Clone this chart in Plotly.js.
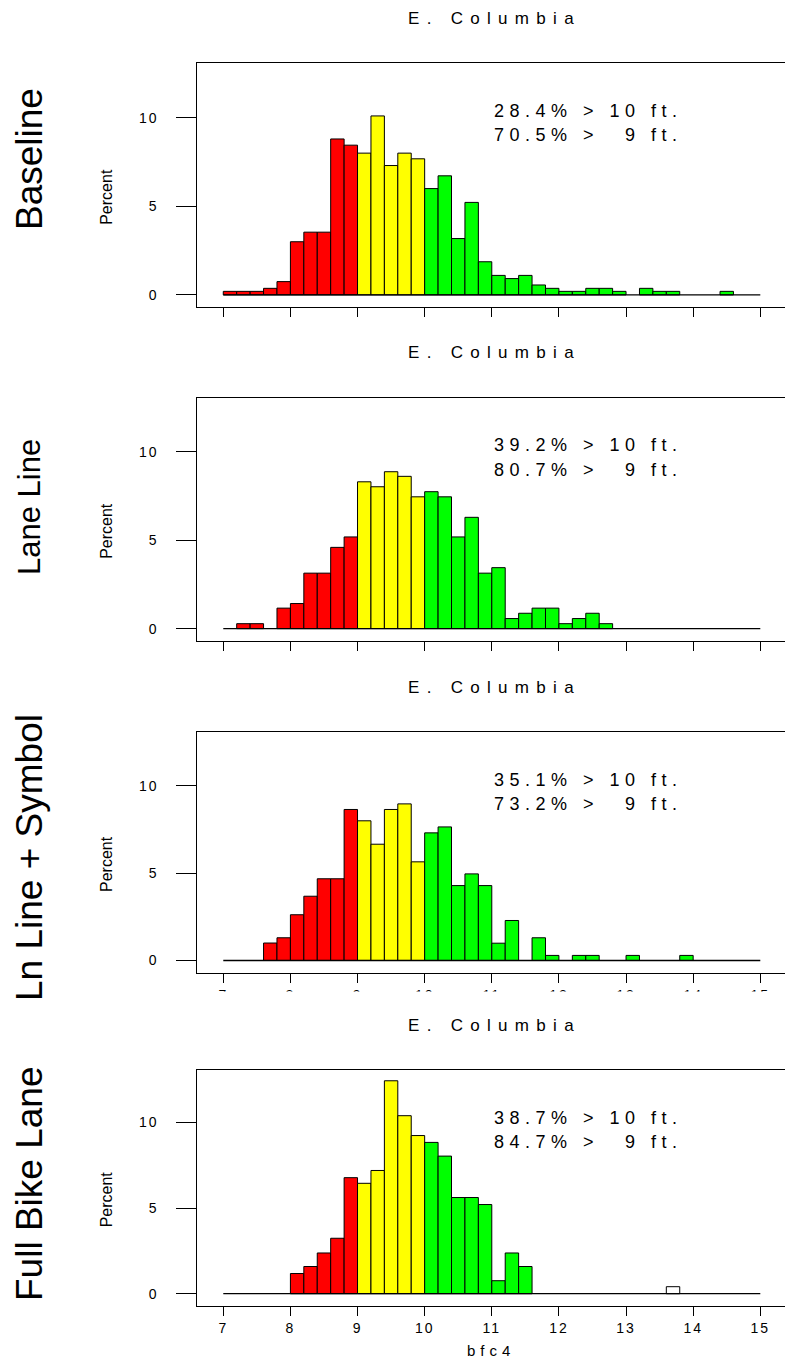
<!DOCTYPE html>
<html><head><meta charset="utf-8">
<script src="https://cdn.plot.ly/plotly-3.0.1.min.js"></script>
<style>html,body{margin:0;padding:0;background:#fff;overflow:hidden}</style>
</head><body><div id="chart" style="width:785px;height:1362px"></div>
<script>
// ---------- data ----------
const binLeft = [7.0,7.2,7.4,7.6,7.8,8.0,8.2,8.4,8.6,8.8,9.0,9.2,9.4,9.6,9.8,10.0,10.2,10.4,10.6,10.8,
                 11.0,11.2,11.4,11.6,11.8,12.0,12.2,12.4,12.6,12.8,13.0,13.2,13.4,13.6,13.8,14.0,14.2,14.4,14.6,14.8];
const binWidth = 0.2;
const baselinePct = [0.2,0.2,0.2,0.37,0.75,3.0,3.54,3.54,8.8,8.45,8.0,10.1,7.3,8.0,7.68,6.0,6.72,3.18,5.22,1.87,
                     1.1,0.92,1.1,0.56,0.37,0.2,0.2,0.37,0.37,0.2,0,0.37,0.2,0.2,0,0,0,0.2,0,0];
const laneLinePct = [0,0.28,0.28,0,1.16,1.42,3.14,3.14,4.6,5.19,8.31,8.03,8.88,8.62,7.46,7.75,7.46,5.19,6.3,3.14,
                     3.45,0.57,0.87,1.16,1.16,0.28,0.57,0.87,0.28,0,0,0,0,0,0,0,0,0,0,0];
const lnLineSymbolPct = [0,0,0,1.0,1.3,2.62,3.68,4.68,4.68,8.65,8.0,6.66,8.65,8.97,5.65,7.31,7.65,4.29,4.96,4.29,
                     0.99,2.29,0,1.3,0.29,0,0.29,0.29,0,0,0.29,0,0,0,0.29,0,0,0,0,0];
const fullBikeLanePct = [0,0,0,0,0,1.18,1.59,2.38,3.24,6.78,6.45,7.2,12.44,10.4,9.24,8.84,8.04,5.62,5.62,5.21,
                     0.76,2.38,1.59,0,0,0,0,0,0,0,0,0,0,0.41,0,0,0,0,0,0];
const panelLabels = ["Baseline","Lane Line","Ln Line + Symbol","Full Bike Lane"];
const siteTitle = "E. Columbia";
const pctOver10 = ["28.4%","39.2%","35.1%","38.7%"];
const pctOver9 = ["70.5%","80.7%","73.2%","84.7%"];
const xTicks = [7,8,9,10,11,12,13,14,15];
const yTicks = [0,5,10];
const xTitle = "bfc4";
const yTitle = "Percent";
const whiteBins = [[],[],[],[13.6]];   // bins drawn unfilled in each panel

// ---------- layout helpers ----------
const W = 785, H = 1362;
const FONT = "Liberation Sans, Arial, Helvetica, sans-serif";
const py = p => 1 - p / H;
const px = p => p / W;
const sp = (t, ls) => '<span style="letter-spacing:' + ls + 'px">' + t + '</span>';
const series = [baselinePct, laneLinePct, lnLineSymbolPct, fullBikeLanePct];
const boxes = [{top:63.3,bottom:307.3,label:159,lsize:37},{top:397.7,bottom:641,label:507,lsize:31},
               {top:732.3,bottom:972.7,label:858,lsize:37},{top:1070,bottom:1305.7,label:1184,lsize:37}];
const plotLeft = 197.3;

const traces = [], annotations = [], shapes = [];
const layout = {width:W, height:H, margin:{l:0,r:0,t:0,b:0}, showlegend:false,
  paper_bgcolor:'#fff', plot_bgcolor:'#fff', font:{family:FONT,color:'#000'},
  bargap:0, annotations, shapes};

function binColor(left, i) {
  if (whiteBins[i].some(v => Math.abs(v - left) < 1e-9)) return '#ffffff';
  if (left < 9 - 1e-9) return '#ff0000';
  if (left < 10 - 1e-9) return '#ffff00';
  return '#00ff00';
}

series.forEach((vals, i) => {
  const n = i + 1, xa = 'x' + (n === 1 ? '' : n), ya = 'y' + (n === 1 ? '' : n);
  // baseline for empty bins
  traces.push({type:'scatter', mode:'lines', x:[binLeft[0], binLeft[binLeft.length-1] + binWidth], y:[0,0],
    xaxis:xa, yaxis:ya, line:{color:'#000', width:1.3}, hoverinfo:'skip'});
  const xs = [], ys = [], cs = [];
  vals.forEach((v, k) => { if (v > 0) { xs.push(binLeft[k]); ys.push(v); cs.push(binColor(binLeft[k], i)); } });
  traces.push({type:'bar', x:xs, y:ys, width:binWidth, offset:0, xaxis:xa, yaxis:ya,
    marker:{color:cs, line:{color:'#000', width:1}}, hoverinfo:'x+y'});

  const b = boxes[i];
  layout['xaxis' + (n === 1 ? '' : n)] = {
    domain:[px(plotLeft), 1], range:[6.613, 15.368], anchor:ya,
    tickvals:xTicks, ticktext:xTicks.map(v => sp(v, 2)), ticks:'outside', ticklen:9, tickcolor:'#000', tickwidth:1,
    showline:true, linecolor:'#000', linewidth:1, mirror:true, showgrid:false, zeroline:false,
    showticklabels: i >= 2, tickfont:{size:14, family:FONT, color:'#000'}, ticklabelstandoff:0
  };
  layout['yaxis' + (n === 1 ? '' : n)] = {
    domain:[py(b.bottom), py(b.top)], range:[-0.7, 13.07], anchor:xa,
    tickvals:yTicks, ticktext:yTicks.map(v => sp(v, 2)), ticks:'outside', ticklen:20, tickcolor:'#000', tickwidth:1,
    showline:true, linecolor:'#000', linewidth:1, mirror:false, showgrid:false, zeroline:false,
    tickfont:{size:14, family:FONT, color:'#000'}, ticklabelstandoff:15
  };
  // title above each panel
  annotations.push({xref:'paper', yref:'paper', x:px((plotLeft + W) / 2), y:py(b.top - 45), xanchor:'center', yanchor:'middle',
    text:sp(siteTitle, 7.3), xshift:3.6, showarrow:false, font:{size:17, family:FONT, color:'#000'}});
  // big row label
  annotations.push({xref:'paper', yref:'paper', x:px(29), y:py(b.label), xanchor:'center', yanchor:'middle',
    text:panelLabels[i], textangle:-90, showarrow:false, font:{size:b.lsize, family:FONT, color:'#000'}});
  // Percent
  annotations.push({xref:'paper', yref:'paper', x:px(106.5), y:py((b.top + b.bottom) / 2 + 12), xanchor:'center', yanchor:'middle',
    text:yTitle, textangle:-90, showarrow:false, font:{size:16, family:FONT, color:'#000'}});
  // stats text
  annotations.push({xref:xa, yref:'paper', x:11.0, y:py(b.top + 47.5), xanchor:'left', yanchor:'middle',
    text:sp(pctOver10[i] + ' > 10 ft.', 5.5), showarrow:false, font:{size:18, family:FONT, color:'#000'}});
  annotations.push({xref:xa, yref:'paper', x:11.0, y:py(b.top + 72), xanchor:'left', yanchor:'middle',
    text:sp(pctOver9[i] + ' > \u20079 ft.', 5.5), showarrow:false, font:{size:18, family:FONT, color:'#000'}});
});

// bottom axis title
annotations.push({xref:'paper', yref:'paper', x:px(488), y:py(1350), xanchor:'center', yanchor:'middle',
  text:sp(xTitle, 5), xshift:2.5, showarrow:false, font:{size:15, family:FONT, color:'#000'}});

// the third panel's tick labels are cut off by the panel below
shapes.push({type:'rect', xref:'paper', yref:'paper', x0:px(150), x1:1, y0:py(1012), y1:py(991.5),
  fillcolor:'#fff', line:{width:0}, layer:'above'});

Plotly.newPlot('chart', traces, layout, {displayModeBar:false, staticPlot:true});
</script></body></html>
